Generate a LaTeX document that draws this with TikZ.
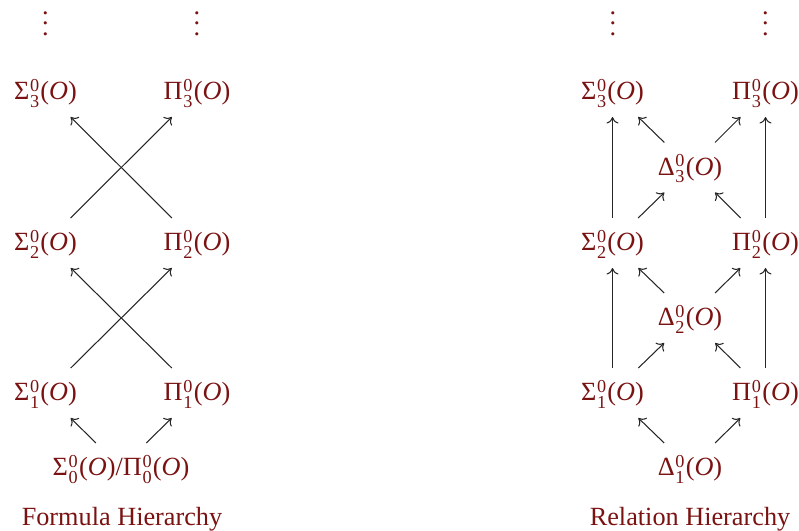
\documentclass[tikz,border=0pt]{standalone}
\usepackage{fontspec}
\setmainfont{Liberation Serif}
\usetikzlibrary{arrows.meta}
\definecolor{hred}{RGB}{122,18,18}
\newcommand\hlab[2]{#1\kern0.3pt\rlap{\raisebox{3.5pt}{\fontsize{7.3}{7.3}\selectfont 0}}\raisebox{-2.9pt}{\fontsize{7.3}{7.3}\selectfont #2}\kern0.5pt(\textit{O})}
\newcommand\mydots{\vbox{\baselineskip=4.2pt\lineskiplimit=0pt\hbox{.}\hbox{.}\hbox{.}}}
\begin{document}
\begin{tikzpicture}[x=0.4pt,y=-0.4pt,
  lbl/.style={text=hred, inner sep=0pt, outer sep=0pt, text height=13.2pt, text depth=6.8pt, font=\fontsize{10.5}{12}\selectfont},
  capnode/.style={text=hred, inner sep=0pt, font=\fontsize{10.5}{12}\selectfont},
  dotsnode/.style={text=hred, inner sep=0pt, font=\fontsize{10.5}{12}\selectfont},
  arr/.style={-{To[length=2.6pt,width=4.8pt]}, line width=0.42pt, draw=black!85}]
\useasboundingbox (0,0) rectangle (799,531);
% Formula hierarchy
\node[dotsnode, anchor=base] (ldl) at (45.5,35.5) {\mydots};
\node[dotsnode, anchor=base] (ldr) at (197,35.5) {\mydots};
\node[lbl] (s3) at (45.5,92) {\hlab{Σ}{3}};
\node[lbl] (p3) at (197,92) {\hlab{Π}{3}};
\node[lbl] (s2) at (45.5,243) {\hlab{Σ}{2}};
\node[lbl] (p2) at (197,243) {\hlab{Π}{2}};
\node[lbl] (s1) at (45.5,393) {\hlab{Σ}{1}};
\node[lbl] (p1) at (197,393) {\hlab{Π}{1}};
\node[lbl] (b0) at (121,468) {\hlab{Σ}{0}/\hlab{Π}{0}};
\node[capnode, anchor=base] (lcap) at (122,526) {Formula Hierarchy};
\draw[arr] (s2) -- (p3);
\draw[arr] (p2) -- (s3);
\draw[arr] (s1) -- (p2);
\draw[arr] (p1) -- (s2);
\draw[arr] (b0) -- (s1);
\draw[arr] (b0) -- (p1);
% Relation hierarchy
\node[dotsnode, anchor=base] (rdl) at (613,35.5) {\mydots};
\node[dotsnode, anchor=base] (rdr) at (765.5,35.5) {\mydots};
\node[lbl] (rs3) at (612.5,92) {\hlab{Σ}{3}};
\node[lbl] (rp3) at (765.5,92) {\hlab{Π}{3}};
\node[lbl] (d3) at (690,167.5) {\hlab{Δ}{3}};
\node[lbl] (rs2) at (612.5,243) {\hlab{Σ}{2}};
\node[lbl] (rp2) at (765.5,243) {\hlab{Π}{2}};
\node[lbl] (d2) at (690,318) {\hlab{Δ}{2}};
\node[lbl] (rs1) at (612.5,393) {\hlab{Σ}{1}};
\node[lbl] (rp1) at (765.5,393) {\hlab{Π}{1}};
\node[lbl] (d1) at (690,468) {\hlab{Δ}{1}};
\node[capnode, anchor=base] (rcap) at (690,526) {Relation Hierarchy};
\draw[arr] (d1) -- (rs1);
\draw[arr] (d1) -- (rp1);
\draw[arr] (rs1) -- (d2);
\draw[arr] (rp1) -- (d2);
\draw[arr] (d2) -- (rs2);
\draw[arr] (d2) -- (rp2);
\draw[arr] (rs2) -- (d3);
\draw[arr] (rp2) -- (d3);
\draw[arr] (d3) -- (rs3);
\draw[arr] (d3) -- (rp3);
\draw[arr] (rs1) -- (rs2);
\draw[arr] (rs2) -- (rs3);
\draw[arr] (rp1) -- (rp2);
\draw[arr] (rp2) -- (rp3);
\end{tikzpicture}
\end{document}
